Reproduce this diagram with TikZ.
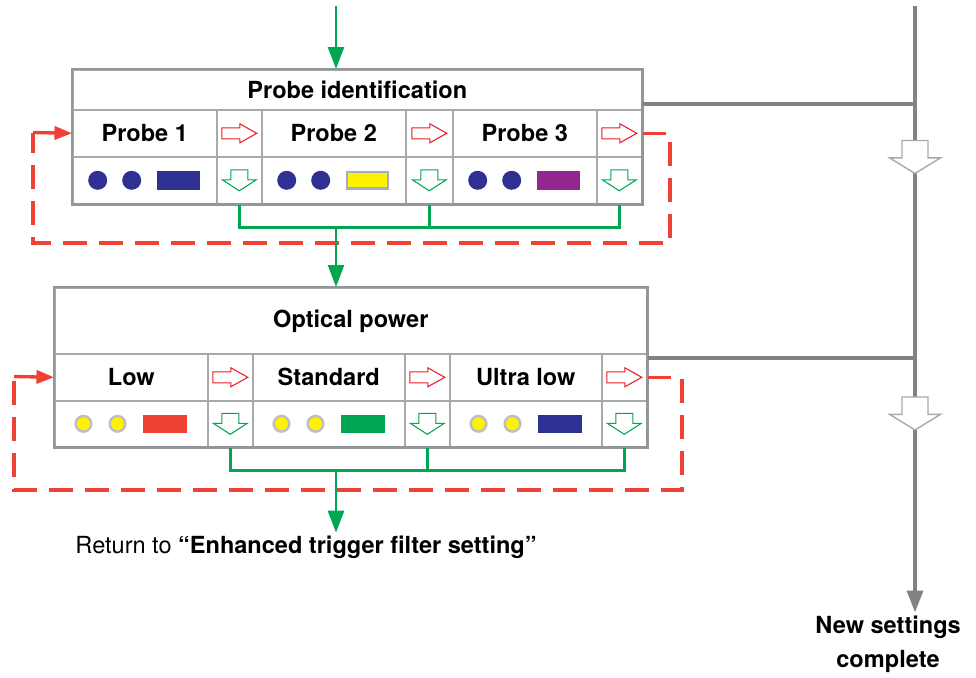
\documentclass[tikz,border=0pt]{standalone}
\usepackage{fontspec}
\setmainfont{TeX Gyre Heros}
\usetikzlibrary{arrows.meta}
\newdimen\px \px=0.02cm
\newcommand{\lab}{\fontsize{13.4}{16}\selectfont\bfseries}
\definecolor{frame}{HTML}{939598}
\definecolor{grid}{HTML}{A7A9AC}
\definecolor{flowgreen}{HTML}{00A651}
\definecolor{retryred}{HTML}{EF4136}
\definecolor{arrowred}{HTML}{ED1C24}
\definecolor{pathgray}{HTML}{808285}
\definecolor{ledblue}{HTML}{2E3192}
\definecolor{ledyellow}{HTML}{FFF200}
\definecolor{ledpurple}{HTML}{92278F}
\definecolor{ledred}{HTML}{EF4136}
\definecolor{ledgreen}{HTML}{00A651}
\definecolor{ledlav}{HTML}{A5A7D4}
\definecolor{ledrim}{HTML}{BCBEC0}
\tikzset{
  cell/.style={draw=grid, line width=0.9pt, anchor=north west, inner sep=0pt, minimum height=47\px, font=\lab},
  boxframe/.style={draw=frame, line width=1.4pt},
  flow/.style={draw=flowgreen, line width=1.7pt},
  retry/.style={draw=retryred, line width=1.9pt, dash pattern=on 13.5pt off 7pt},
  retrytip/.style={draw=retryred, line width=1.9pt, -{Triangle[length=10pt,width=7.5pt]}},
  grayline/.style={draw=pathgray, line width=2.2pt},
  nextarrow/.pic={\draw[draw=arrowred, fill=white, line width=0.6pt] (-17.5,-5.5) -- (0.5,-5.5) -- (0.5,-9.5) -- (17.5,0) -- (0.5,9.5) -- (0.5,5.5) -- (-17.5,5.5) -- cycle;},
  okarrow/.pic={\draw[draw=flowgreen, fill=white, line width=0.6pt] (-8.5,-10.5) -- (8.5,-10.5) -- (8.5,-0.5) -- (17,-0.5) -- (0,10.5) -- (-17,-0.5) -- (-8.5,-0.5) -- cycle;},
  skiparrow/.pic={\draw[draw=grid, fill=white, line width=0.8pt] (-13,-16.5) -- (13,-16.5) -- (13,0.8) -- (25.5,0.8) -- (0,16.5) -- (-25.5,0.8) -- (-13,0.8) -- cycle;}
}

\begin{document}
\begin{tikzpicture}[x=0.02cm, y=-0.02cm, >={Triangle[length=12.5pt,width=9pt]}]
\useasboundingbox (0,0) rectangle (976,677);

% gray path on the right
\coordinate (gtop) at (915,6);
\coordinate (g1) at (915,104);
\coordinate (g2) at (915,358);
\node[font=\lab, align=center, inner sep=2pt, anchor=north] (done) at (888,612.5) {New settings\\[3.3pt]complete};
\draw[grayline, ->] (gtop) -- (gtop |- done.north);

% probe identification
\node[cell, minimum width=569\px, minimum height=40\px] (pid) at (72,69) {Probe identification};
\node[cell, minimum width=144\px] (p1) at (72,109) {Probe 1};
\node[cell, minimum width=45\px] (p1a) at (216,109) {};
\node[cell, minimum width=144\px] (p2) at (261,109) {Probe 2};
\node[cell, minimum width=47\px] (p2a) at (405,109) {};
\node[cell, minimum width=144\px] (p3) at (452,109) {Probe 3};
\node[cell, minimum width=45\px] (p3a) at (596,109) {};
\node[cell, minimum width=144\px] (p1led) at (72,156) {};
\node[cell, minimum width=45\px] (p1go) at (216,156) {};
\node[cell, minimum width=144\px] (p2led) at (261,156) {};
\node[cell, minimum width=47\px] (p2go) at (405,156) {};
\node[cell, minimum width=144\px] (p3led) at (452,156) {};
\node[cell, minimum width=45\px] (p3go) at (596,156) {};
\draw[boxframe] (pid.north west) rectangle (p3go.south east);

% optical power
\node[cell, minimum width=592\px, minimum height=66\px] (opw) at (54,287) {Optical power};
\node[cell, minimum width=153\px] (low) at (54,353) {Low};
\node[cell, minimum width=45\px] (lowa) at (207,353) {};
\node[cell, minimum width=152\px] (std) at (252,353) {Standard};
\node[cell, minimum width=45\px] (stda) at (404,353) {};
\node[cell, minimum width=152\px] (ulo) at (449,353) {Ultra low};
\node[cell, minimum width=45\px] (uloa) at (601,353) {};
\node[cell, minimum width=153\px, minimum height=46\px] (lowled) at (54,400) {};
\node[cell, minimum width=45\px, minimum height=46\px] (lowgo) at (207,400) {};
\node[cell, minimum width=152\px, minimum height=46\px] (stdled) at (252,400) {};
\node[cell, minimum width=45\px, minimum height=46\px] (stdgo) at (404,400) {};
\node[cell, minimum width=152\px, minimum height=46\px] (uloled) at (449,400) {};
\node[cell, minimum width=45\px, minimum height=46\px] (ulogo) at (601,400) {};
\draw[boxframe] (opw.north west) rectangle (ulogo.south east);

% lamps
\foreach \c/\col/\rim in {p1led/ledblue/ledblue, p2led/ledyellow/ledlav, p3led/ledpurple/ledpurple}{
  \fill[ledblue] (\c.west) ++(25.7,0) circle (9.5) ++(34,0) circle (9.5);
  \draw[fill=\col, draw=\rim, line width=1.4pt] (\c.west) ++(85.9,-8.1) rectangle ++(41.2,16.2);
}
\foreach \c/\col in {lowled/ledred, stdled/ledgreen, uloled/ledblue}{
  \draw[fill=ledyellow, draw=ledrim, line width=1.4pt] (\c.west) ++(29.5,0) circle (7.8) ++(34,0) circle (7.8);
  \fill[\col] (\c.west) ++(88.8,-9.3) rectangle ++(44.2,18.6);
}

% hollow arrows
\foreach \c in {p1a, p2a, p3a, lowa, stda, uloa}
  \pic at (\c.center) {nextarrow};
\foreach \c in {p1go, p2go, p3go, lowgo, stdgo, ulogo}
  \pic at (\c.center) {okarrow};

% gray branches
\draw[grayline] (g1 -| pid.east) -- (g1);
\draw[grayline] (g2 -| opw.east) -- (g2);
\pic at (915,157) {skiparrow};
\pic at (915,413.5) {skiparrow};

% retry loops
\coordinate (pin) at (33,132.5);
\coordinate (lin) at (14,376.5);
\draw[retry] (p3a.east) -| (670,243) -| (pin);
\draw[retrytip] (pin) -- (p1.west);
\draw[retry] (uloa.east) -| (682,490) -| (lin);
\draw[retrytip] (lin) -- (low.west);

% green flow
\node[anchor=west, inner sep=1.5pt, font=\fontsize{13.4}{16}\selectfont] (ret) at (72.5,547) {Return to \textbf{“Enhanced trigger filter setting”}};
\coordinate (gin) at (336,6);
\coordinate (j1) at (336,226);
\coordinate (j2) at (336,469);
\draw[flow, ->] (gin) -- (gin |- pid.north);
\draw[flow] (p1go.south) -- ++(0,23) -| (p3go.south);
\draw[flow] (p2go.south) -- ++(0,23);
\draw[flow, ->] (j1) -- (j1 |- opw.north);
\draw[flow] (lowgo.south) -- ++(0,23) -| (ulogo.south);
\draw[flow] (stdgo.south) -- ++(0,23);
\draw[flow, ->] (j2) -- (j2 |- ret.north);
\end{tikzpicture}
\end{document}
